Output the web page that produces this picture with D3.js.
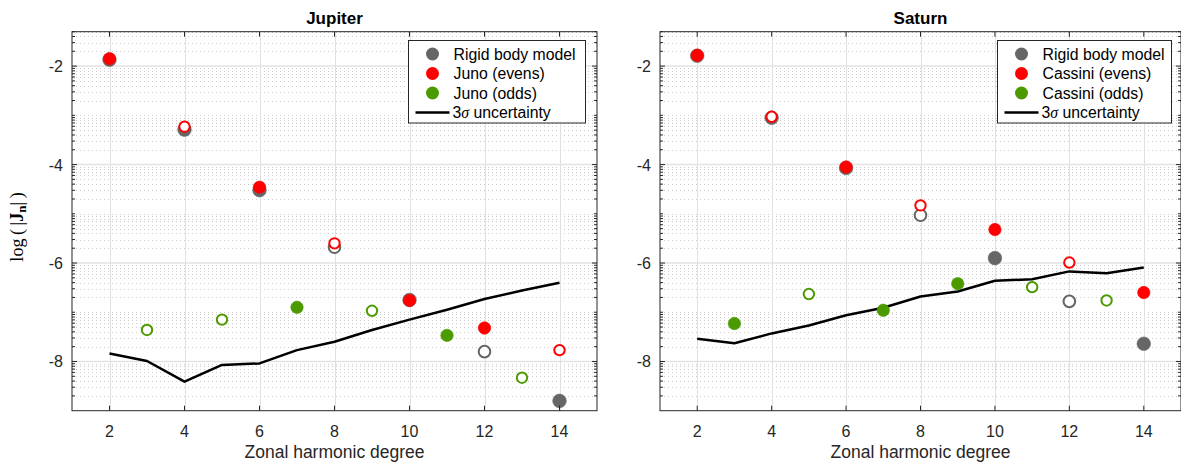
<!DOCTYPE html>
<html>
<head>
<meta charset="utf-8">
<script src="https://cdn.jsdelivr.net/npm/d3@7"></script>
<style>
  body { margin: 0; background: #fff; }
  svg { display: block; font-family: "Liberation Sans", Arial, sans-serif; }
</style>
</head>
<body>
<div id="chart"></div>
<script>
// harmonic degrees
var degreesAll = [2, 3, 4, 5, 6, 7, 8, 9, 10, 11, 12, 13, 14];
var degreesEven = [2, 4, 6, 8, 10, 12, 14];
var degreesOdd = [3, 5, 7, 9, 11, 13];
var xTicks = [2, 4, 6, 8, 10, 12, 14];
var yTickExp = [-2, -4, -6, -8];

// Jupiter, log10(|Jn|), open = negative sign
var jupRigid = [-1.87, -3.29, -4.52, -5.68, -6.75, -7.80, -8.80];
var jupRigidOpen = [0, 0, 0, 1, 0, 1, 0];
var junoEven = [-1.85, -3.23, -4.46, -5.60, -6.76, -7.32, -7.77];
var junoEvenOpen = [0, 1, 0, 1, 0, 0, 1];
var junoOdd = [-7.36, -7.15, -6.90, -6.97, -7.47, -8.33];
var junoOddOpen = [1, 1, 0, 1, 0, 1];
var jupSigma = [-7.84, -7.99, -8.41, -8.07, -8.04, -7.77, -7.60, -7.36, -7.15, -6.95, -6.73, -6.56, -6.40];

// Saturn
var satRigid = [-1.79, -3.05, -4.07, -5.03, -5.90, -6.78, -7.64];
var satRigidOpen = [0, 0, 0, 1, 0, 1, 0];
var cassEven = [-1.78, -3.03, -4.05, -4.83, -5.32, -5.99, -6.60];
var cassEvenOpen = [0, 1, 0, 1, 0, 1, 0];
var cassOdd = [-7.23, -6.63, -6.96, -6.42, -6.49, -6.76];
var cassOddOpen = [0, 1, 0, 0, 1, 1];
var satSigma = [-7.54, -7.63, -7.43, -7.27, -7.06, -6.91, -6.68, -6.58, -6.36, -6.33, -6.17, -6.21, -6.09];

var W = 1181, H = 464;
var GRAY = '#666666', RED = '#ff0000', GREEN = '#4b9b00', AX = '#262626';

var svg = d3.select('#chart').append('svg')
    .attr('width', W)
    .attr('height', H);

function drawPanel(p) {
    var x = d3.scaleLinear().domain([1, 15]).range([p.left, p.right]);
    var y = d3.scaleLog().domain([1e-9, 0.05]).range([410.7, 31.7]);
    var top = y.range()[1], bottom = y.range()[0];
    var g = svg.append('g');

    // minor log grid
    var minor = [];
    for (var d = -9; d <= -2; d++) {
        for (var k = 1; k <= 9; k++) {
            var v = k * Math.pow(10, d);
            if (v > 0.0500001) continue;
            if (k === 1 && yTickExp.indexOf(d) >= 0) continue;
            if (k === 1 && d === -9) continue;
            minor.push(v);
        }
    }
    g.selectAll('.minor').data(minor).enter().append('line')
        .attr('x1', p.left).attr('x2', p.right)
        .attr('y1', function(v) { return Math.round(y(v)) + 0.5; })
        .attr('y2', function(v) { return Math.round(y(v)) + 0.5; })
        .attr('stroke', '#cdcdcd')
        .attr('stroke-width', 1)
        .attr('stroke-dasharray', '1,3');

    // major grid
    g.selectAll('.hmaj').data(yTickExp).enter().append('line')
        .attr('x1', p.left).attr('x2', p.right)
        .attr('y1', function(e) { return y(Math.pow(10, e)); })
        .attr('y2', function(e) { return y(Math.pow(10, e)); })
        .attr('stroke', '#e3e3e3')
        .attr('stroke-width', 1.5);
    g.selectAll('.vmaj').data(xTicks).enter().append('line')
        .attr('x1', function(t) { return Math.round(x(t)) + 0.5; })
        .attr('x2', function(t) { return Math.round(x(t)) + 0.5; })
        .attr('y1', top).attr('y2', bottom)
        .attr('stroke', '#e0e0e0')
        .attr('stroke-width', 1);

    // 3 sigma line
    var line = d3.line()
        .x(function(d, i) { return x(degreesAll[i]); })
        .y(function(d) { return y(Math.pow(10, d)); });
    g.append('path')
        .datum(p.sigma)
        .attr('d', line)
        .attr('fill', 'none')
        .attr('stroke', '#000')
        .attr('stroke-width', 2.5)
        .attr('stroke-linejoin', 'round');

    function markers(degs, vals, open, color, rFill, rOpen) {
        g.append('g').selectAll('circle').data(vals).enter().append('circle')
            .attr('cx', function(d, i) { return x(degs[i]); })
            .attr('cy', function(d) { return y(Math.pow(10, d)); })
            .attr('r', function(d, i) { return open[i] ? rOpen : rFill; })
            .attr('fill', function(d, i) { return open[i] ? '#fff' : color; })
            .attr('stroke', color)
            .attr('stroke-width', function(d, i) { return open[i] ? 2 : 0.6; });
    }
    markers(degreesEven, p.rigid, p.rigidOpen, GRAY, 6.8, 5.8);
    markers(degreesEven, p.even, p.evenOpen, RED, 6.2, 5.2);
    markers(degreesOdd, p.odd, p.oddOpen, GREEN, 6.2, 5.2);

    // axes box
    g.append('rect')
        .attr('x', p.left).attr('y', top)
        .attr('width', p.right - p.left).attr('height', bottom - top)
        .attr('fill', 'none')
        .attr('stroke', AX)
        .attr('stroke-width', 1);

    // y ticks (both sides)
    var allY = minor.concat(yTickExp.map(function(e) { return Math.pow(10, e); }));
    allY.forEach(function(v) {
        var isMaj = yTickExp.some(function(e) { return Math.abs(Math.pow(10, e) - v) < v * 1e-6; });
        var len = isMaj ? 5 : 3;
        var yy = y(v);
        g.append('line').attr('x1', p.left).attr('x2', p.left + len)
            .attr('y1', yy).attr('y2', yy).attr('stroke', AX);
        g.append('line').attr('x1', p.right).attr('x2', p.right - len)
            .attr('y1', yy).attr('y2', yy).attr('stroke', AX);
    });
    xTicks.forEach(function(t) {
        var xx = x(t);
        g.append('line').attr('x1', xx).attr('x2', xx)
            .attr('y1', bottom).attr('y2', bottom - 5).attr('stroke', AX);
        g.append('line').attr('x1', xx).attr('x2', xx)
            .attr('y1', top).attr('y2', top + 5).attr('stroke', AX);
    });

    // tick labels
    g.selectAll('.xl').data(xTicks).enter().append('text')
        .attr('x', function(t) { return x(t); })
        .attr('y', 437)
        .attr('text-anchor', 'middle')
        .attr('font-size', 16)
        .attr('fill', AX)
        .text(function(t) { return t; });
    g.selectAll('.yl').data(yTickExp).enter().append('text')
        .attr('x', p.left - 9)
        .attr('y', function(e) { return y(Math.pow(10, e)) + 6; })
        .attr('text-anchor', 'end')
        .attr('font-size', 16)
        .attr('fill', AX)
        .text(function(e) { return e; });

    // titles
    g.append('text')
        .attr('x', (p.left + p.right) / 2)
        .attr('y', 24)
        .attr('text-anchor', 'middle')
        .attr('font-size', 17)
        .attr('font-weight', 'bold')
        .attr('fill', '#000')
        .text(p.title);
    g.append('text')
        .attr('x', (p.left + p.right) / 2)
        .attr('y', 458)
        .attr('text-anchor', 'middle')
        .attr('font-size', 17.5)
        .attr('fill', AX)
        .text('Zonal harmonic degree');

    // legend
    var lx = p.legendLeft, ly = 40.5, lw = p.legendWidth, lh = 82.5;
    var leg = g.append('g');
    leg.append('rect')
        .attr('x', lx).attr('y', ly).attr('width', lw).attr('height', lh)
        .attr('fill', '#fff').attr('stroke', AX).attr('stroke-width', 1);
    var items = [
        { label: 'Rigid body model', color: GRAY },
        { label: p.evenLabel, color: RED },
        { label: p.oddLabel, color: GREEN }
    ];
    items.forEach(function(it, i) {
        var yy = ly + 13.5 + i * 19.5;
        leg.append('circle').attr('cx', lx + 24).attr('cy', yy).attr('r', 6.5).attr('fill', it.color);
        leg.append('text').attr('x', lx + 45).attr('y', yy + 5.6)
            .attr('font-size', 15.8).attr('fill', '#000').text(it.label);
    });
    var ys = ly + 13.5 + 3 * 19.5;
    leg.append('line').attr('x1', lx + 7).attr('x2', lx + 41)
        .attr('y1', ys).attr('y2', ys).attr('stroke', '#000').attr('stroke-width', 2.5);
    var st = leg.append('text').attr('x', lx + 44).attr('y', ys + 5.6)
        .attr('font-size', 15.8).attr('fill', '#000');
    st.append('tspan').text('3');
    st.append('tspan').attr('font-family', '"Liberation Serif", "DejaVu Serif", serif')
        .attr('font-style', 'italic').text('\u03c3');
    st.append('tspan').text(' uncertainty');
}

drawPanel({
    left: 72, right: 597, title: 'Jupiter',
    rigid: jupRigid, rigidOpen: jupRigidOpen,
    even: junoEven, evenOpen: junoEvenOpen,
    odd: junoOdd, oddOpen: junoOddOpen,
    sigma: jupSigma,
    evenLabel: 'Juno (evens)', oddLabel: 'Juno (odds)',
    legendLeft: 408.5, legendWidth: 177
});
drawPanel({
    left: 660, right: 1181, title: 'Saturn',
    rigid: satRigid, rigidOpen: satRigidOpen,
    even: cassEven, evenOpen: cassEvenOpen,
    odd: cassOdd, oddOpen: cassOddOpen,
    sigma: satSigma,
    evenLabel: 'Cassini (evens)', oddLabel: 'Cassini (odds)',
    legendLeft: 997.5, legendWidth: 174
});

// y axis label (LaTeX style)
var yl = svg.append('text')
    .attr('transform', 'translate(23,227) rotate(-90)')
    .attr('text-anchor', 'middle')
    .attr('font-family', '"Liberation Serif", "DejaVu Serif", serif')
    .attr('font-size', 18)
    .attr('fill', '#000');
yl.append('tspan').text('log\u2009(\u2009|');
yl.append('tspan').attr('font-weight', 'bold').text('J');
yl.append('tspan').attr('font-weight', 'bold').attr('font-size', 13).attr('dy', 3).text('n');
yl.append('tspan').attr('dy', -3).text('|\u2009)');
</script>
</body>
</html>
